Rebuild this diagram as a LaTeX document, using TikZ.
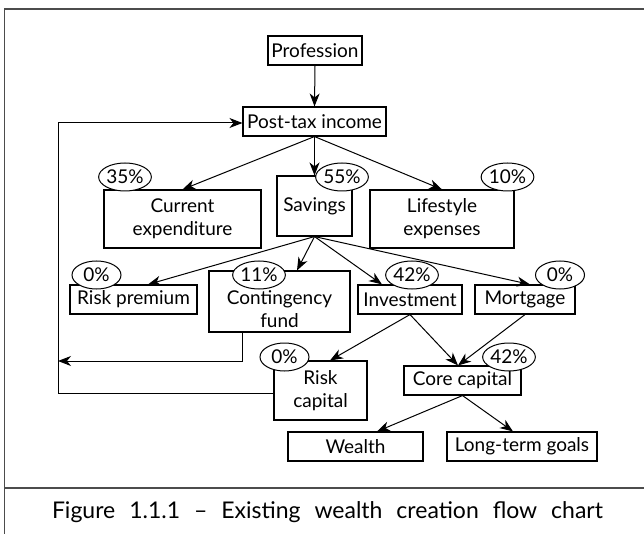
\documentclass[tikz,border=0pt]{standalone}
\usepackage{fontspec}
\setmainfont{Lato}
\usetikzlibrary{arrows.meta,shapes.geometric}
\begin{document}
\begin{tikzpicture}[x=1pt,y=-1pt,
  box/.style={draw, line width=1.1pt, inner sep=0pt, align=center, font=\fontsize{19}{23}\selectfont},
  plain/.style={inner sep=0pt, align=center, font=\fontsize{19}{23}\selectfont},
  pct/.style={draw, ellipse, line width=1pt, minimum width=49pt, minimum height=28pt, inner sep=0pt, fill=white, font=\fontsize{19}{20}\selectfont},
  arr/.style={-{Stealth[length=13pt,width=10pt,inset=4pt]}, line width=1pt},
  frameline/.style={draw=black!70, line width=1.5pt}]
\useasboundingbox (0,0) rectangle (644,534);
% frame
\draw[frameline] (4.5,534) -- (4.5,9) -- (644,9);
\draw[frameline] (4.5,488) -- (644,488);
% boxes
\node[box, minimum width=94pt, minimum height=29pt] (prof) at (315,50.5) {Profession};
\node[box, minimum width=143pt, minimum height=29pt] (pti) at (314.5,121.5) {Post-tax income};
\node[box, minimum width=157pt, minimum height=58pt] (cur) at (182.5,219) {Current\\expenditure};
\node[box, minimum width=75pt, minimum height=60pt] (sav) at (314.5,206) {Savings};
\node[box, minimum width=144pt, minimum height=58pt] (life) at (442,219) {Lifestyle\\expenses};
\node[box, minimum width=127pt, minimum height=29pt] (rp) at (133.5,299.5) {Risk premium};
\node[box, minimum width=141pt, minimum height=61pt] (contbox) at (279.5,301.5) {};
\node[plain] (cont) at (279.5,309) {Contingency\\fund};
\node[box, minimum width=104pt, minimum height=29pt] (inv) at (410,299.5) {Investment};
\node[box, minimum width=100pt, minimum height=29pt] (mort) at (525,299.5) {Mortgage};
\node[box, minimum width=93pt, minimum height=59pt] (rc) at (320.5,390.5) {Risk\\capital};
\node[box, minimum width=117pt, minimum height=29pt] (core) at (462.5,380.5) {Core capital};
\node[box, minimum width=135pt, minimum height=29pt] (wealth) at (355.5,446.5) {Wealth};
\node[box, minimum width=150pt, minimum height=29pt] (ltg) at (522,446.5) {Long-term goals};
% connectors
\draw[arr] (prof.south) -- (pti.north);
\draw[arr] (pti.south) -- (cur.north);
\draw[arr] (pti.south) -- (sav.north);
\draw[arr] (pti.south) -- (life.north);
\draw[arr] (sav.south) -- ([xshift=14.5pt]rp.north);
\draw[arr] (sav.south) -- ([xshift=17.5pt]contbox.north);
\draw[arr] (sav.south) -- ([xshift=-28pt]inv.north);
\draw[arr] (sav.south) -- ([xshift=5pt]mort.north);
\draw[arr] (inv.south) -- ([xshift=9.5pt]rc.north);
\draw[arr] (inv.south) -- ([xshift=-4.5pt]core.north);
\draw[arr] (mort.south) -- ([xshift=-4.5pt]core.north);
\draw[arr] (core.south) -- ([xshift=21.5pt]wealth.north);
\draw[arr] (core.south) -- ([xshift=-9pt]ltg.north);
\coordinate (fbend) at (58,361);
\coordinate (fbcorner) at (58,123);
\draw[arr] ([xshift=-37.5pt]contbox.south) |- (fbend);
\draw[arr] ([yshift=-2.5pt]rc.west) -| (fbcorner) -- ([yshift=-1.5pt]pti.west);
% percentages
\node[pct] (p35) at (125,177) {35\%};
\node[pct] (p55) at (342,177) {55\%};
\node[pct] (p10) at (507.5,177) {10\%};
\node[pct] (p0a) at (96.5,275) {0\%};
\node[pct] (p11) at (259,275) {11\%};
\node[pct] (p42a) at (412,275) {42\%};
\node[pct] (p0b) at (560,275) {0\%};
\node[pct] (p0c) at (284.5,357) {0\%};
\node[pct] (p42b) at (509,357) {42\%};
% caption
\node[inner sep=0pt, font=\fontsize{23}{27}\selectfont] (title) at (327.5,512) {\makebox[551pt][s]{Figure 1.1.1 – Existing wealth creation flow chart}};
\end{tikzpicture}
\end{document}
